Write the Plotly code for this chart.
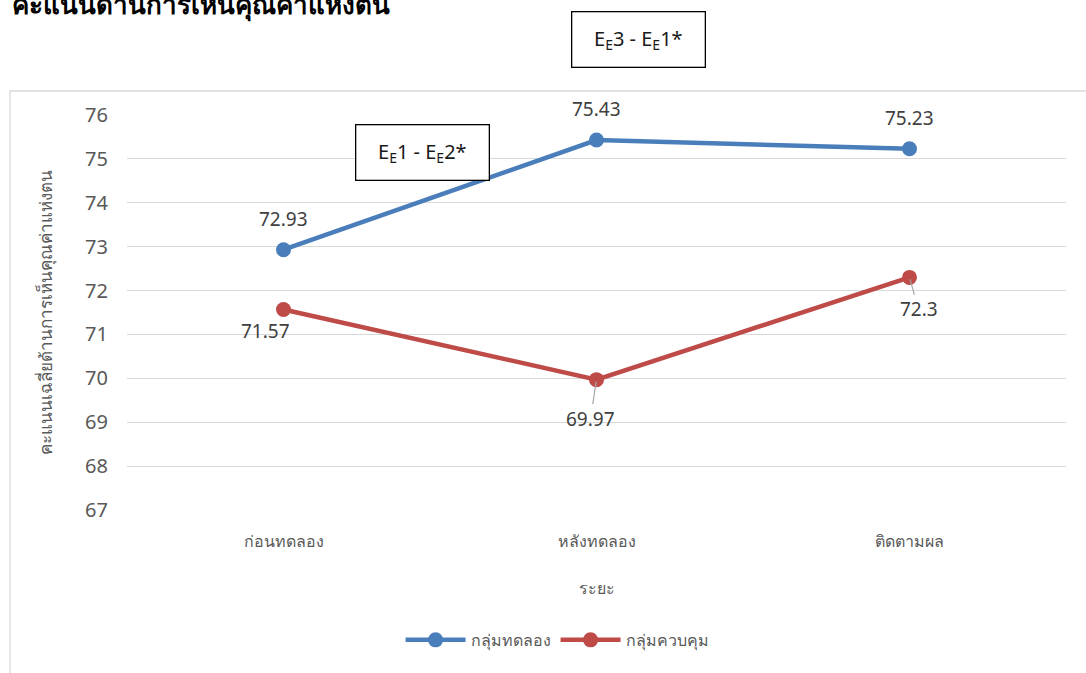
import plotly.graph_objects as go

categories = ["ก่อนทดลอง", "หลังทดลอง", "ติดตามผล"]
exp_name = "กลุ่มทดลอง"
ctl_name = "กลุ่มควบคุม"
exp_values = [72.93, 75.43, 75.23]
ctl_values = [71.57, 69.97, 72.3]
y_ticks = [67, 68, 69, 70, 71, 72, 73, 74, 75, 76]

title_text = "คะแนนด้านการเห็นคุณค่าแห่งตน"
x_title = "ระยะ"
y_title = "คะแนนเฉลี่ยด้านการเห็นคุณค่าแห่งตน"

BLUE = "#4A7EBB"
RED = "#BE4B48"
FONT = "Noto Sans, Tahoma, sans-serif"

fig = go.Figure()
fig.add_trace(go.Scatter(x=categories, y=exp_values, name=exp_name, mode="lines+markers",
                         line=dict(color=BLUE, width=4.5), marker=dict(size=15, color=BLUE)))
fig.add_trace(go.Scatter(x=categories, y=ctl_values, name=ctl_name, mode="lines+markers",
                         line=dict(color=RED, width=4.5), marker=dict(size=15, color=RED)))

lab_font = dict(size=19, color="#404040", family=FONT)
# blue labels above
for c, v in zip(categories, exp_values):
    fig.add_annotation(x=c, y=v, text=f"{v:g}", showarrow=False, yshift=31, font=lab_font)
# red labels
red_offsets = [(-18, 22, False), (-6, 39, True), (9, 32, True)]
for (c, v), (dx, dy, arrow) in zip(zip(categories, ctl_values), red_offsets):
    if arrow:
        fig.add_annotation(x=c, y=v, text=f"{v:g}", showarrow=True, arrowhead=0, arrowwidth=1.2,
                           arrowcolor="#A6A6A6", ax=dx, ay=dy, standoff=2, font=lab_font)
    else:
        fig.add_annotation(x=c, y=v, text=f"{v:g}", showarrow=False, xshift=dx, yshift=-dy, font=lab_font)

box_font = dict(size=20, color="#1A1A1A", family=FONT)
fig.add_annotation(xref="paper", yref="paper", x=0.545, y=1.19, xanchor="center", yanchor="middle",
                   text="E<sub>E</sub>3 - E<sub>E</sub>1*",
                   showarrow=False, bordercolor="#000000", borderwidth=1.3, bgcolor="white",
                   width=130, height=52, font=box_font)
fig.add_annotation(xref="paper", yref="paper", x=0.315, y=0.906, xanchor="center", yanchor="middle",
                   text="E<sub>E</sub>1 - E<sub>E</sub>2*",
                   showarrow=False, bordercolor="#000000", borderwidth=1.3, bgcolor="white",
                   width=130, height=52, font=box_font)

# title
fig.add_annotation(xref="paper", yref="paper", x=-0.125, y=1.281, xanchor="left", yanchor="middle",
                   text=f"<b>{title_text}</b>", showarrow=False,
                   font=dict(size=26, color="#000000", family=FONT))

# chart area border
fig.add_shape(type="rect", xref="paper", yref="paper", x0=-0.1246, x1=1.05, y0=-0.45, y1=1.0608,
              line=dict(color="#D9D9D9", width=1.3), fillcolor="rgba(0,0,0,0)", layer="below")

fig.update_layout(
    width=1086, height=673,
    margin=dict(l=127, r=20, t=115, b=163),
    paper_bgcolor="white", plot_bgcolor="white",
    font=dict(family=FONT, color="#595959"),
    showlegend=True,
    legend=dict(orientation="h", x=0.458, y=-0.329, xanchor="center", yanchor="middle",
                font=dict(size=16, color="#595959"), itemwidth=60),
)
fig.update_xaxes(type="category", range=[-0.5, 2.5], showgrid=False, showline=False, ticks="",
                 tickfont=dict(size=16, color="#595959"), ticklabelstandoff=20,
                 title=dict(text=x_title, font=dict(size=16, color="#595959"), standoff=31))
fig.update_yaxes(range=[67, 76], tickvals=y_ticks, showgrid=True, gridcolor="#D9D9D9", gridwidth=1.3,
                 zeroline=False, showline=False, ticks="", tickfont=dict(size=20, color="#595959"),
                 ticklabelstandoff=18,
                 title=dict(text=y_title, font=dict(size=17, color="#595959"), standoff=28))

fig.write_html("out.html")
